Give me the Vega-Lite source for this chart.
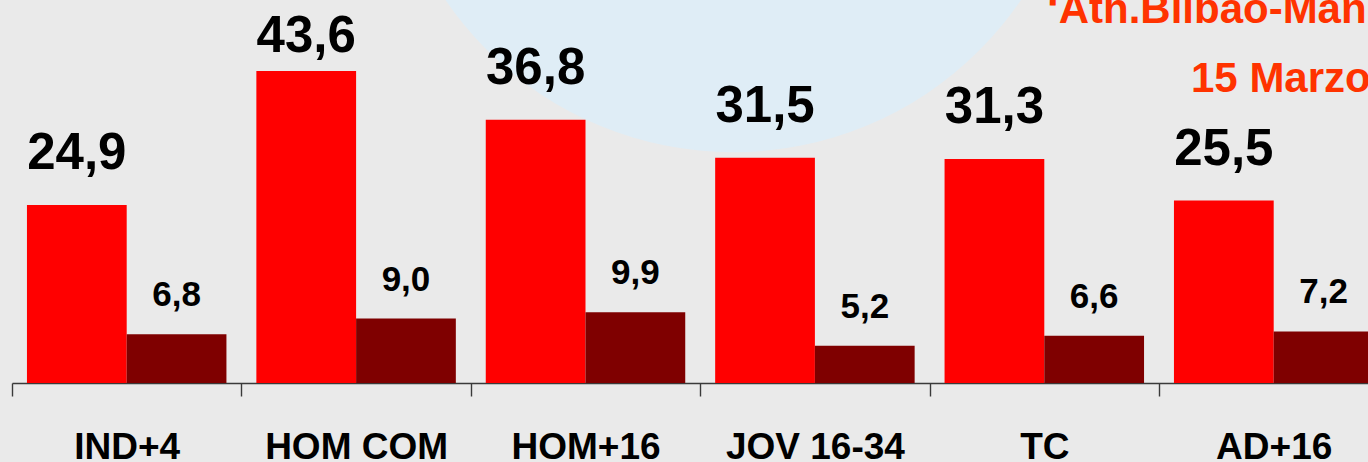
{
  "$schema": "https://vega.github.io/schema/vega-lite/v6.json",
  "width": 1356,
  "height": 383,
  "autosize": "none",
  "padding": {"left": 12, "top": 0, "right": 0, "bottom": 79},
  "background": "#eaeaea",
  "config": {
    "view": {"stroke": null},
    "font": "Liberation Sans",
    "locale": {"number": {"decimal": ",", "thousands": ".", "grouping": [3], "currency": ["", " €"]}},
    "axisX": {
      "domainColor": "#3a3a3a", "domainWidth": 1.4,
      "tickColor": "#3a3a3a", "tickWidth": 1.4, "tickSize": 13, "tickBand": "extent",
      "labelFont": "Liberation Sans", "labelFontSize": 37, "labelFontWeight": "bold", "labelColor": "#000000",
      "labelBaseline": "alphabetic", "labelPadding": 62, "labelAngle": 0, "labelLimit": 400,
      "labelOverlap": false, "labelBound": false, "grid": false
    }
  },
  "datasets": {
    "audiencia": [
      {"cat": "IND+4", "s": "a", "v": 24.9},
      {"cat": "IND+4", "s": "b", "v": 6.8},
      {"cat": "HOM COM", "s": "a", "v": 43.6},
      {"cat": "HOM COM", "s": "b", "v": 9.0},
      {"cat": "HOM+16", "s": "a", "v": 36.8},
      {"cat": "HOM+16", "s": "b", "v": 9.9},
      {"cat": "JOV 16-34", "s": "a", "v": 31.5},
      {"cat": "JOV 16-34", "s": "b", "v": 5.2},
      {"cat": "TC", "s": "a", "v": 31.3},
      {"cat": "TC", "s": "b", "v": 6.6},
      {"cat": "AD+16", "s": "a", "v": 25.5},
      {"cat": "AD+16", "s": "b", "v": 7.2}
    ],
    "linea1": [{"t": "‘Ath.Bilbao-Man.Utd’"}],
    "linea2": [{"t": "15 Marzo"}],
    "fondo": [{"k": "circulo"}]
  },
  "layer": [
    {
      "data": {"name": "fondo"},
      "mark": {"type": "point", "shape": "circle", "filled": true, "size": 484416, "color": "#dfedf6", "opacity": 1, "strokeWidth": 0},
      "encoding": {
        "x": {"datum": "JOV 16-34", "type": "nominal", "bandPosition": 0.144, "title": null},
        "y": {"datum": 80.9, "type": "quantitative", "axis": null}
      }
    },
    {
      "data": {"name": "audiencia"},
      "mark": {"type": "bar"},
      "encoding": {
        "x": {
          "field": "cat", "type": "nominal", "title": null, "sort": null,
          "scale": {"domain": ["IND+4", "HOM COM", "HOM+16", "JOV 16-34", "TC", "AD+16"], "range": [0, 1376.4], "paddingInner": 0, "paddingOuter": 0}
        },
        "xOffset": {"field": "s", "type": "nominal", "scale": {"domain": ["a", "b"], "paddingOuter": 0.15, "paddingInner": 0}},
        "y": {"field": "v", "type": "quantitative", "axis": null, "scale": {"domain": [0, 53.54], "nice": false, "zero": true}},
        "color": {"field": "s", "type": "nominal", "legend": null, "scale": {"domain": ["a", "b"], "range": ["#ff0000", "#7f0000"]}}
      }
    },
    {
      "data": {"name": "audiencia"},
      "transform": [{"filter": "datum.s == 'a' && datum.cat != 'HOM COM'"}],
      "mark": {"type": "text", "font": "Liberation Sans", "fontWeight": "bold", "fontSize": 51, "color": "#000000", "baseline": "alphabetic", "align": "center", "dy": -36},
      "encoding": {
        "x": {"field": "cat", "type": "nominal", "title": null},
        "xOffset": {"field": "s", "type": "nominal"},
        "y": {"field": "v", "type": "quantitative", "axis": null},
        "text": {"field": "v", "type": "quantitative", "format": ".1f"}
      }
    },
    {
      "data": {"name": "audiencia"},
      "transform": [{"filter": "datum.s == 'a' && datum.cat == 'HOM COM'"}],
      "mark": {"type": "text", "font": "Liberation Sans", "fontWeight": "bold", "fontSize": 51, "color": "#000000", "baseline": "alphabetic", "align": "center", "dy": -19},
      "encoding": {
        "x": {"field": "cat", "type": "nominal", "title": null},
        "xOffset": {"field": "s", "type": "nominal"},
        "y": {"field": "v", "type": "quantitative", "axis": null},
        "text": {"field": "v", "type": "quantitative", "format": ".1f"}
      }
    },
    {
      "data": {"name": "audiencia"},
      "transform": [{"filter": "datum.s == 'b'"}],
      "mark": {"type": "text", "font": "Liberation Sans", "fontWeight": "bold", "fontSize": 35, "color": "#000000", "baseline": "alphabetic", "align": "center", "dy": -28},
      "encoding": {
        "x": {"field": "cat", "type": "nominal", "title": null},
        "xOffset": {"field": "s", "type": "nominal"},
        "y": {"field": "v", "type": "quantitative", "axis": null},
        "text": {"field": "v", "type": "quantitative", "format": ".1f"}
      }
    },
    {
      "data": {"name": "linea1"},
      "mark": {"type": "text", "font": "Liberation Sans", "fontWeight": "bold", "fontSize": 42, "color": "#ff3300", "baseline": "alphabetic", "align": "left", "dx": -112},
      "encoding": {
        "x": {"datum": "AD+16", "type": "nominal", "bandPosition": 0, "title": null},
        "y": {"datum": 50.35, "type": "quantitative", "axis": null},
        "text": {"field": "t", "type": "nominal"}
      }
    },
    {
      "data": {"name": "linea2"},
      "mark": {"type": "text", "font": "Liberation Sans", "fontWeight": "bold", "fontSize": 42, "color": "#ff3300", "baseline": "alphabetic", "align": "left", "dx": 32},
      "encoding": {
        "x": {"datum": "AD+16", "type": "nominal", "bandPosition": 0, "title": null},
        "y": {"datum": 40.7, "type": "quantitative", "axis": null},
        "text": {"field": "t", "type": "nominal"}
      }
    }
  ]
}
